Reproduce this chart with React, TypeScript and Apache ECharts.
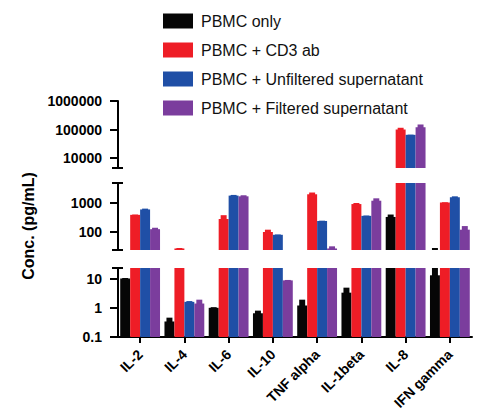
import React, { useEffect, useRef } from "react";
import * as echarts from "echarts";

const categories = ["IL-2", "IL-4", "IL-6", "IL-10", "TNF alpha", "IL-1beta", "IL-8", "IFN gamma"];
const seriesNames = [
  "PBMC only",
  "PBMC + CD3 ab",
  "PBMC + Unfiltered supernatant",
  "PBMC + Filtered supernatant",
];
const pbmcOnly = [10, 0.34, 1.0, 0.65, 1.2, 3.3, 330, 13];
const pbmcCd3 = [390, 27, 280, 100, 2000, 920, 100000, 1040];
const pbmcUnfiltered = [600, 1.6, 1800, 80, 240, 360, 65000, 1580];
const pbmcFiltered = [125, 1.4, 1700, 8.7, 27, 1200, 120000, 120];

const pbmcOnlyErr = [10.4, 0.46, 1.05, 0.8, 1.9, 4.9, 400, 28];
const pbmcCd3Err = [400, 28, 380, 120, 2300, 1000, 115000, 1060];
const pbmcUnfilteredErr = [640, 1.7, 1900, 82, 245, 370, 66000, 1700];
const pbmcFilteredErr = [140, 1.9, 1850, 9, 32, 1450, 150000, 160];

const lowTicks = [0.1, 1, 10];
const midTicks = [100, 1000];
const highTicks = [10000, 100000, 1000000];

const values = [pbmcOnly, pbmcCd3, pbmcUnfiltered, pbmcFiltered];
const errs = [pbmcOnlyErr, pbmcCd3Err, pbmcUnfilteredErr, pbmcFilteredErr];
const colors = ["#060606", "#ee1d26", "#1f4fa6", "#7b3d9d"];

const FONT = "Liberation Sans, Arial, sans-serif";
const AXIS_X = 118;
const GRID_RIGHT = 5;

// segment layout (broken log axis)
const segments = [
  { top: 101, height: 67, min: 4460, max: 1000000, ticks: highTicks },
  { top: 183, height: 67, min: 23.9, max: 4900, ticks: midTicks },
  { top: 268, height: 69, min: 0.1, max: 23.1, ticks: lowTicks },
];

const fmt = (v: number) => String(Number(Number(v).toPrecision(6)));

export default function App() {
  const ref = useRef<HTMLDivElement>(null);
  useEffect(() => {
    if (!ref.current) return;
    const chart = echarts.init(ref.current, null, { renderer: "svg" });

    const grids: any[] = [];
    const xAxes: any[] = [];
    const yAxes: any[] = [];
    const series: any[] = [];

    segments.forEach((seg, gi) => {
      const isBottom = gi === segments.length - 1;
      grids.push({ left: AXIS_X, right: GRID_RIGHT, top: seg.top, height: seg.height, containLabel: false });
      xAxes.push({
        type: "category",
        gridIndex: gi,
        data: categories,
        show: isBottom,
        axisLine: { show: isBottom, lineStyle: { color: "#000", width: 2 } },
        axisTick: { show: isBottom, alignWithLabel: true, length: 6, lineStyle: { color: "#000", width: 2 } },
        axisLabel: {
          show: isBottom,
          rotate: 45,
          margin: 15,
          interval: 0,
          color: "#000",
          fontFamily: FONT,
          fontWeight: "bold",
          fontSize: 14,
        },
      });
      yAxes.push({
        type: "log",
        logBase: 10,
        gridIndex: gi,
        min: seg.min,
        max: seg.max,
        startValue: seg.min,
        splitLine: { show: false },
        axisLine: { show: true, lineStyle: { color: "#000", width: 2 } },
        axisTick: { show: true, length: 8, lineStyle: { color: "#000", width: 2 }, customValues: seg.ticks },
        axisLabel: {
          customValues: seg.ticks,
          margin: 16,
          color: "#000",
          fontFamily: FONT,
          fontWeight: "bold",
          fontSize: 14,
          formatter: (v: number) => fmt(v),
        },
        minorTick: { show: false },
      });
      values.forEach((vals, si) => {
        series.push({
          type: "bar",
          name: seriesNames[si],
          xAxisIndex: gi,
          yAxisIndex: gi,
          data: vals.map((v) => (v > seg.min ? v : null)),
          barGap: "0%",
          barCategoryGap: "10%",
          itemStyle: { color: colors[si] },
          clip: true,
          silent: true,
        });
      });
      const errData: any[] = [];
      values.forEach((vals, si) => {
        vals.forEach((v, ci) => {
          if (errs[si][ci] > v) errData.push([ci, si, v, errs[si][ci]]);
        });
      });
      series.push({
        type: "custom",
        name: "err" + gi,
        xAxisIndex: gi,
        yAxisIndex: gi,
        data: errData,
        encode: { x: 0, y: 2 },
        silent: true,
        renderItem: (params: any, api: any) => {
          const cat = api.value(0);
          const si = api.value(1);
          const v = api.value(2);
          const e = api.value(3);
          const cs = params.coordSys;
          const band = cs.width / categories.length;
          const barW = (band * 0.9) / 4;
          const base = api.coord([cat, v]);
          const top = api.coord([cat, e]);
          const cx = base[0] - band * 0.45 + (si + 0.5) * barW;
          const w = barW * 0.6;
          const rect = echarts.graphic.clipRectByRect(
            { x: cx - w / 2, y: top[1], width: w, height: base[1] - top[1] + 1 },
            { x: cs.x, y: cs.y, width: cs.width, height: cs.height }
          );
          if (!rect) return null;
          return { type: "rect", shape: rect, style: { fill: colors[si] } };
        },
      });
    });

    const breaks = [
      segments[0].top + segments[0].height,
      segments[1].top,
      segments[1].top + segments[1].height,
      segments[2].top,
    ];

    const graphic: any[] = breaks.map((y) => ({
      type: "line",
      shape: { x1: AXIS_X - 6, y1: y, x2: AXIS_X + 5, y2: y },
      style: { stroke: "#000", lineWidth: 2 },
      silent: true,
    }));
    graphic.push({
      type: "text",
      x: 28,
      y: 226,
      rotation: Math.PI / 2,
      style: {
        text: "Conc. (pg/mL)",
        fill: "#000",
        font: "bold 16px " + FONT,
        textAlign: "center",
        textVerticalAlign: "middle",
      },
    });

    chart.setOption({
      animation: false,
      backgroundColor: "#fff",
      grid: grids,
      xAxis: xAxes,
      yAxis: yAxes,
      series,
      graphic,
      legend: {
        data: seriesNames,
        orient: "vertical",
        left: 158,
        top: 8,
        itemWidth: 30,
        itemHeight: 15,
        itemGap: 13,
        icon: "rect",
        selectedMode: false,
        textStyle: { fontFamily: FONT, fontSize: 16, color: "#111", padding: [0, 0, 0, 3] },
      },
    });
    return () => chart.dispose();
  }, []);
  return (
    <div
      ref={ref}
      style={{ position: "fixed", left: 0, top: 0, width: 477, height: 414, background: "#fff" }}
    />
  );
}
